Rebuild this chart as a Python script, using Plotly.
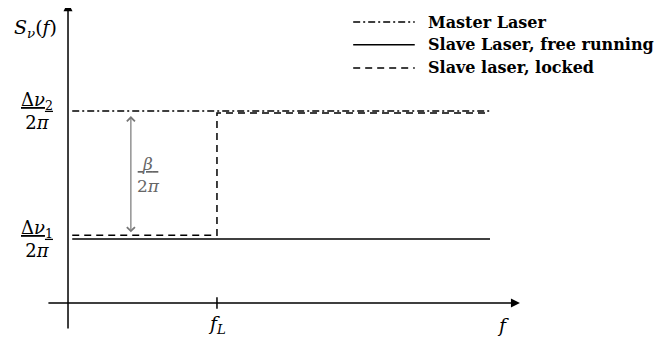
import plotly.graph_objects as go

# frequency axis (normalised so the end of the traces is 1)
f_start = 0.01
f_lock = 0.353
f_end = 1.0

# spectral levels (units of delta nu_1 / 2 pi)
level_free = 1.0
level_master = 3.0
level_locked_low = 1.06
level_locked_high = 2.97

legend_names = ["Master Laser", "Slave Laser, free running", "Slave laser, locked"]

serif = "DejaVu Serif"
dash_master = "7px,3px,2px,3px"
dash_locked = "7px,5px"

fig = go.Figure()
fig.add_trace(go.Scatter(x=[f_start, f_end], y=[level_master, level_master], mode="lines",
                         line=dict(color="black", width=1.5, dash=dash_master), hoverinfo="skip"))
fig.add_trace(go.Scatter(x=[f_start, f_end], y=[level_free, level_free], mode="lines",
                         line=dict(color="black", width=1.5), hoverinfo="skip"))
fig.add_trace(go.Scatter(x=[f_start, f_lock, f_lock, f_end],
                         y=[level_locked_low, level_locked_low, level_locked_high, level_locked_high],
                         mode="lines", line=dict(color="black", width=1.5, dash=dash_locked),
                         hoverinfo="skip"))

# axes drawn as arrows
ax_col = "black"
fig.add_annotation(x=0, y=4.7, ax=0, ay=-0.42, xref="x", yref="y", axref="x", ayref="y",
                   text="", showarrow=True, arrowhead=2, arrowsize=1.2, arrowwidth=1.5, arrowcolor=ax_col)
fig.add_annotation(x=1.071, y=0, ax=-0.05, ay=0, xref="x", yref="y", axref="x", ayref="y",
                   text="", showarrow=True, arrowhead=2, arrowsize=1.2, arrowwidth=1.5, arrowcolor=ax_col)
fig.add_shape(type="line", x0=f_lock, x1=f_lock, y0=-0.09, y1=0.09,
              line=dict(color="black", width=1.5))

# beta arrow
fig.add_annotation(x=0.149, y=level_locked_high - 0.05, ax=0.149, ay=level_locked_low + 0.02,
                   xref="x", yref="y", axref="x", ayref="y", text="", showarrow=True,
                   arrowhead=4, startarrowhead=4, arrowside="end+start", arrowsize=1.3,
                   startarrowsize=1.3, arrowwidth=1.2, arrowcolor="#777777")
fig.add_annotation(x=0.19, y=2.0, xref="x", yref="y", showarrow=False,
                   text="<u>&nbsp;<i>β</i>&nbsp;</u><br>2<i>π</i>",
                   font=dict(family=serif, size=17, color="#666666"))

# labels
lab_font = dict(family=serif, size=18, color="black")
fig.add_annotation(x=-0.078, y=4.29, xref="x", yref="y", showarrow=False,
                   text="<i>S<sub>ν</sub></i>(<i>f</i>)", font=dict(family=serif, size=19, color="black"))
fig.add_annotation(x=-0.073, y=level_master, xref="x", yref="y", showarrow=False,
                   text="<u>Δ<i>ν</i><sub>2</sub></u><br>2<i>π</i>", font=lab_font)
fig.add_annotation(x=-0.073, y=level_free, xref="x", yref="y", showarrow=False,
                   text="<u>Δ<i>ν</i><sub>1</sub></u><br>2<i>π</i>", font=lab_font)
fig.add_annotation(x=f_lock, y=-0.34, xref="x", yref="y", showarrow=False,
                   text="<i>f<sub>L</sub></i>", font=dict(family=serif, size=19, color="black"))
fig.add_annotation(x=1.03, y=-0.34, xref="x", yref="y", showarrow=False,
                   text="<i>f</i>", font=dict(family=serif, size=19, color="black"))

# legend (page has an 8px body margin, so the figure is drawn 8px in)
leg_y = [0.958, 0.890, 0.821]
leg_dash = [dash_master, "solid", dash_locked]
for name, yy, dd in zip(legend_names, leg_y, leg_dash):
    fig.add_shape(type="line", xref="paper", yref="paper", x0=0.527, x1=0.621, y0=yy, y1=yy,
                  line=dict(color="black", width=1.5, dash=dd))
    fig.add_annotation(x=0.638, y=yy, xref="paper", yref="paper", xanchor="left", yanchor="middle",
                       showarrow=False, text="<b>" + name + "</b>",
                       font=dict(family=serif, size=16, color="black"))

fig.update_layout(
    width=655, height=335,
    margin=dict(l=0, r=0, t=0, b=0),
    plot_bgcolor="white", paper_bgcolor="white",
    showlegend=False,
    xaxis=dict(range=[-0.1422, 1.41], visible=False, fixedrange=True),
    yaxis=dict(range=[-0.625, 4.609], visible=False, fixedrange=True),
)
fig.write_html("out.html")
